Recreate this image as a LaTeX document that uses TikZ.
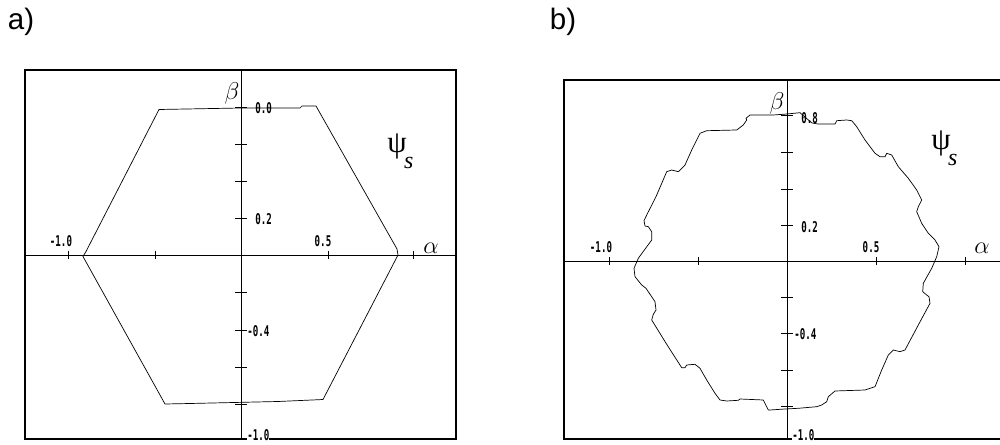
\documentclass[tikz,border=0pt]{standalone}
\usepackage{fontspec}
\setmainfont{Liberation Sans}
\newfontfamily\tickfont[FakeStretch=0.62]{DejaVu Sans Mono}
\newfontfamily\grecfont{Liberation Serif}
\usetikzlibrary{calc}

\tikzset{
  cadre/.style={line width=1.1pt},
  axe/.style={line width=0.6pt},
  courbe/.style={line width=0.5pt,line join=round},
  graduation/.style={font=\tickfont\bfseries\fontsize{10.5}{11}\selectfont,inner sep=0pt},
  lettre/.style={font=\fontsize{19}{19}\selectfont,inner sep=0pt},
  psilettre/.style={font=\grecfont\fontsize{22}{22}\selectfont,inner sep=0pt,anchor=north west},
  titre/.style={font=\fontsize{21}{21}\selectfont,inner sep=0pt}
}
\newcommand{\psis}{ψ\raisebox{-1.1ex}{\kern-0.08em\fontsize{17}{17}\selectfont\itshape s}}

\begin{document}
\begin{tikzpicture}[x=0.025cm,y=-0.025cm]

    % Cadre de la figure
    \useasboundingbox (0,0) rectangle (1000,445);
    \clip (0,0) rectangle (1000,445);

    % Titres des deux graphiques
    \node[titre] (titre a) at (21,22) {a)};
    \node[titre] (titre b) at (563,22) {b)};

    % Graphique a) : cadre et axes
    \coordinate (Oa) at (241,255);
    \draw[cadre] (25,70) rectangle (456,439);
    \draw[axe] (25,255) -- (456,255);
    \draw[axe] (241,70) -- (241,439);
    \foreach \x in {68,155,328,413} \draw[axe] (\x,251) -- (\x,259);
    \foreach \y in {107,144,181,218,292,330,367,404} \draw[axe] (235,\y) -- (247,\y);

    % Graduations de a)
    \node[graduation] (xa1) at (61,241) {-1.0};
    \node[graduation] (xa2) at (323,241) {0.5};
    \node[graduation,anchor=west] (ya1) at (255,108) {0.0};
    \node[graduation,anchor=west] (ya2) at (255,219) {0.2};
    \node[graduation,anchor=west] (ya3) at (247,331) {-0.4};
    \node[graduation,anchor=west,fill=white] (ya4) at (247,435.5) {-1.0};

    % Trajectoire hexagonale du flux
    \draw[courbe] (159,109.5) -- (241,108) -- (300,108) -- (302,106) -- (316,106)
      -- (397,249) -- (398,255) -- (323,399.5) -- (312,400) -- (278,401.5)
      -- (190,403.5) -- (165,404) -- (83,256.5) -- (86,251.5) -- cycle;

    % Noms des axes de a)
    \node[lettre] (beta a) at (232,93) {$\beta$};
    \node[lettre] (alpha a) at (431,248) {$\alpha$};
    \node[psilettre] (psi a) at (387,134) {\psis};

    % Graphique b) : cadre et axes
    \coordinate (Ob) at (787,261);
    \draw[cadre] (564,80) rectangle (1010,439);
    \draw[axe] (564,261) -- (1000,261);
    \draw[axe] (787,80) -- (787,439);
    \foreach \x in {609,698,876,965} \draw[axe] (\x,257) -- (\x,265);
    \foreach \y in {115,152,189,225,297,333,370,406} \draw[axe] (781,\y) -- (793,\y);

    % Graduations de b)
    \node[graduation] (xb1) at (601,247) {-1.0};
    \node[graduation] (xb2) at (871,247) {0.5};
    \node[graduation,anchor=west] (yb1) at (801,118) {0.8};
    \node[graduation,anchor=west] (yb2) at (801,227) {0.2};
    \node[graduation,anchor=west] (yb3) at (794,334) {-0.4};
    \node[graduation,anchor=west,fill=white] (yb4) at (792,435.5) {-1.0};

    % Trajectoire ondulee du flux
    \draw[courbe] (787,114) -- (800,112.7) -- (806,118) -- (812,123) -- (818,124)
      -- (835,124) -- (836.7,120.7) -- (846.7,120) -- (851.7,120.7) -- (856.7,126.7)
      -- (865,140) -- (875,153.3) -- (880,156.7) -- (885,156.7) -- (886.7,153.3)
      -- (891.7,155) -- (898.3,166.7) -- (908.3,178.3) -- (916.7,190) -- (921.7,200)
      -- (918.3,206.7) -- (916.7,211.7) -- (921.7,223.3) -- (928.3,233.3) -- (935,240)
      -- (939,246.7) -- (936.7,256.7) -- (931.7,268.3) -- (923.3,283.3) -- (922.7,291.7)
      -- (926.7,295) -- (929,296.7) -- (930,303.3) -- (918.3,325) -- (905,350)
      -- (900,351.7) -- (893.3,350) -- (888.3,355) -- (881.7,370) -- (875,386.7)
      -- (865,390) -- (835,391) -- (828.3,396.7) -- (826.7,401.7) -- (821.7,405)
      -- (816.7,406.7) -- (798.3,408.3) -- (785,409) -- (770,410) -- (768.3,410)
      -- (766.7,406.7) -- (763.3,400) -- (740,399) -- (738.3,400.3) -- (726.7,401)
      -- (720,400) -- (715,393.3) -- (706.7,380) -- (700,368.3) -- (695,364.3)
      -- (686.7,365) -- (685,367.7) -- (681.7,367.7) -- (666.7,344.3) -- (651.7,320)
      -- (653.3,314.3) -- (656,310) -- (655,301.7) -- (646,288.3) -- (641.7,285)
      -- (635,276.7) -- (634,268.3) -- (638.3,258.3) -- (640.7,255) -- (651.7,240)
      -- (651.7,231.7) -- (648.3,226.7) -- (645,226) -- (644,220.7) -- (646.7,215)
      -- (656,196.7) -- (666.7,171.7) -- (671.7,170) -- (678.3,171.7) -- (685,165)
      -- (691.7,150) -- (693.3,146.7) -- (700,133.3) -- (706.7,130.7) -- (736.7,130)
      -- (743.3,125) -- (746.7,120) -- (746,118.3) -- (750,115) -- (773.3,115) -- cycle;

    % Noms des axes de b)
    \node[lettre] (beta b) at (777,103) {$\beta$};
    \node[lettre] (alpha b) at (982,248) {$\alpha$};
    \node[psilettre] (psi b) at (931,131) {\psis};

\end{tikzpicture}
\end{document}
